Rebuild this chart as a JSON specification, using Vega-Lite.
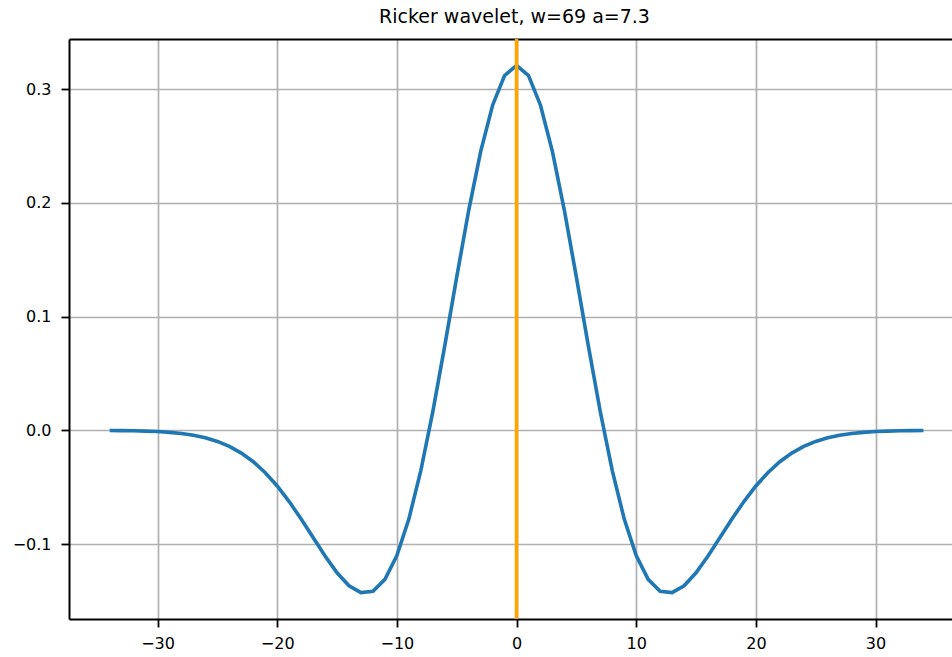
{
  "$schema": "https://vega.github.io/schema/vega-lite/v6.json",
  "autosize": {"type": "none"},
  "padding": {"left": 69, "top": 39, "right": 0, "bottom": 38},
  "width": 883,
  "height": 580,
  "background": "white",
  "title": {
    "text": "Ricker wavelet, w=69 a=7.3",
    "font": "DejaVu Sans",
    "fontSize": 19,
    "fontWeight": "normal",
    "color": "black",
    "anchor": "middle",
    "dx": 4,
    "offset": 10
  },
  "config": {
    "view": {"stroke": null},
    "axis": {
      "domainColor": "black",
      "domainWidth": 2,
      "tickColor": "black",
      "tickWidth": 1.8,
      "tickSize": 8,
      "labelPadding": 8,
      "labelFont": "DejaVu Sans",
      "labelFontSize": 16,
      "labelColor": "black",
      "gridColor": "#b0b0b0",
      "gridWidth": 1.7,
      "title": null
    }
  },
  "datasets": {
    "wavelet": [
      {"x": -34, "y": -0.000129}, {"x": -33, "y": -0.000228}, {"x": -32, "y": -0.000393}, {"x": -31, "y": -0.000663},
      {"x": -30, "y": -0.001097}, {"x": -29, "y": -0.001775}, {"x": -28, "y": -0.002813}, {"x": -27, "y": -0.004355},
      {"x": -26, "y": -0.006598}, {"x": -25, "y": -0.009777}, {"x": -24, "y": -0.014157}, {"x": -23, "y": -0.020019},
      {"x": -22, "y": -0.027652}, {"x": -21, "y": -0.037264}, {"x": -20, "y": -0.048962}, {"x": -19, "y": -0.062658},
      {"x": -18, "y": -0.078001}, {"x": -17, "y": -0.094329}, {"x": -16, "y": -0.110570}, {"x": -15, "y": -0.125274},
      {"x": -14, "y": -0.136670}, {"x": -13, "y": -0.142760}, {"x": -12, "y": -0.141495}, {"x": -11, "y": -0.131064},
      {"x": -10, "y": -0.110101}, {"x": -9, "y": -0.078063}, {"x": -8, "y": -0.035390}, {"x": -7, "y": 0.016318},
      {"x": -6, "y": 0.074298}, {"x": -5, "y": 0.134784}, {"x": -4, "y": 0.193317}, {"x": -3, "y": 0.245192},
      {"x": -2, "y": 0.285979}, {"x": -1, "y": 0.312046}, {"x": 0, "y": 0.321011}, {"x": 1, "y": 0.312046},
      {"x": 2, "y": 0.285979}, {"x": 3, "y": 0.245192}, {"x": 4, "y": 0.193317}, {"x": 5, "y": 0.134784},
      {"x": 6, "y": 0.074298}, {"x": 7, "y": 0.016318}, {"x": 8, "y": -0.035390}, {"x": 9, "y": -0.078063},
      {"x": 10, "y": -0.110101}, {"x": 11, "y": -0.131064}, {"x": 12, "y": -0.141495}, {"x": 13, "y": -0.142760},
      {"x": 14, "y": -0.136670}, {"x": 15, "y": -0.125274}, {"x": 16, "y": -0.110570}, {"x": 17, "y": -0.094329},
      {"x": 18, "y": -0.078001}, {"x": 19, "y": -0.062658}, {"x": 20, "y": -0.048962}, {"x": 21, "y": -0.037264},
      {"x": 22, "y": -0.027652}, {"x": 23, "y": -0.020019}, {"x": 24, "y": -0.014157}, {"x": 25, "y": -0.009777},
      {"x": 26, "y": -0.006598}, {"x": 27, "y": -0.004355}, {"x": 28, "y": -0.002813}, {"x": 29, "y": -0.001775},
      {"x": 30, "y": -0.001097}, {"x": 31, "y": -0.000663}, {"x": 32, "y": -0.000393}, {"x": 33, "y": -0.000228},
      {"x": 34, "y": -0.000129}
    ],
    "center": [{"x": 0}]
  },
  "layer": [
    {
      "data": {"name": "wavelet"},
      "mark": {"type": "line", "color": "#1f77b4", "strokeWidth": 3.6, "clip": true},
      "encoding": {
        "x": {
          "field": "x", "type": "quantitative",
          "scale": {"domain": [-37.4, 36.39], "nice": false, "zero": false},
          "axis": {"values": [-30, -20, -10, 0, 10, 20, 30], "format": "d", "grid": true}
        },
        "y": {
          "field": "y", "type": "quantitative",
          "scale": {"domain": [-0.16595, 0.3442], "nice": false, "zero": false},
          "axis": {"values": [-0.1, 0, 0.1, 0.2, 0.3], "format": ".1f", "grid": true, "labelPadding": 10}
        }
      }
    },
    {
      "data": {"name": "center"},
      "mark": {"type": "rule", "color": "#ffa500", "strokeWidth": 3.6},
      "encoding": {
        "x": {
          "field": "x", "type": "quantitative",
          "axis": {"orient": "top", "labels": false, "ticks": false, "grid": false, "domain": true}
        }
      }
    }
  ],
  "resolve": {"axis": {"x": "independent"}}
}
